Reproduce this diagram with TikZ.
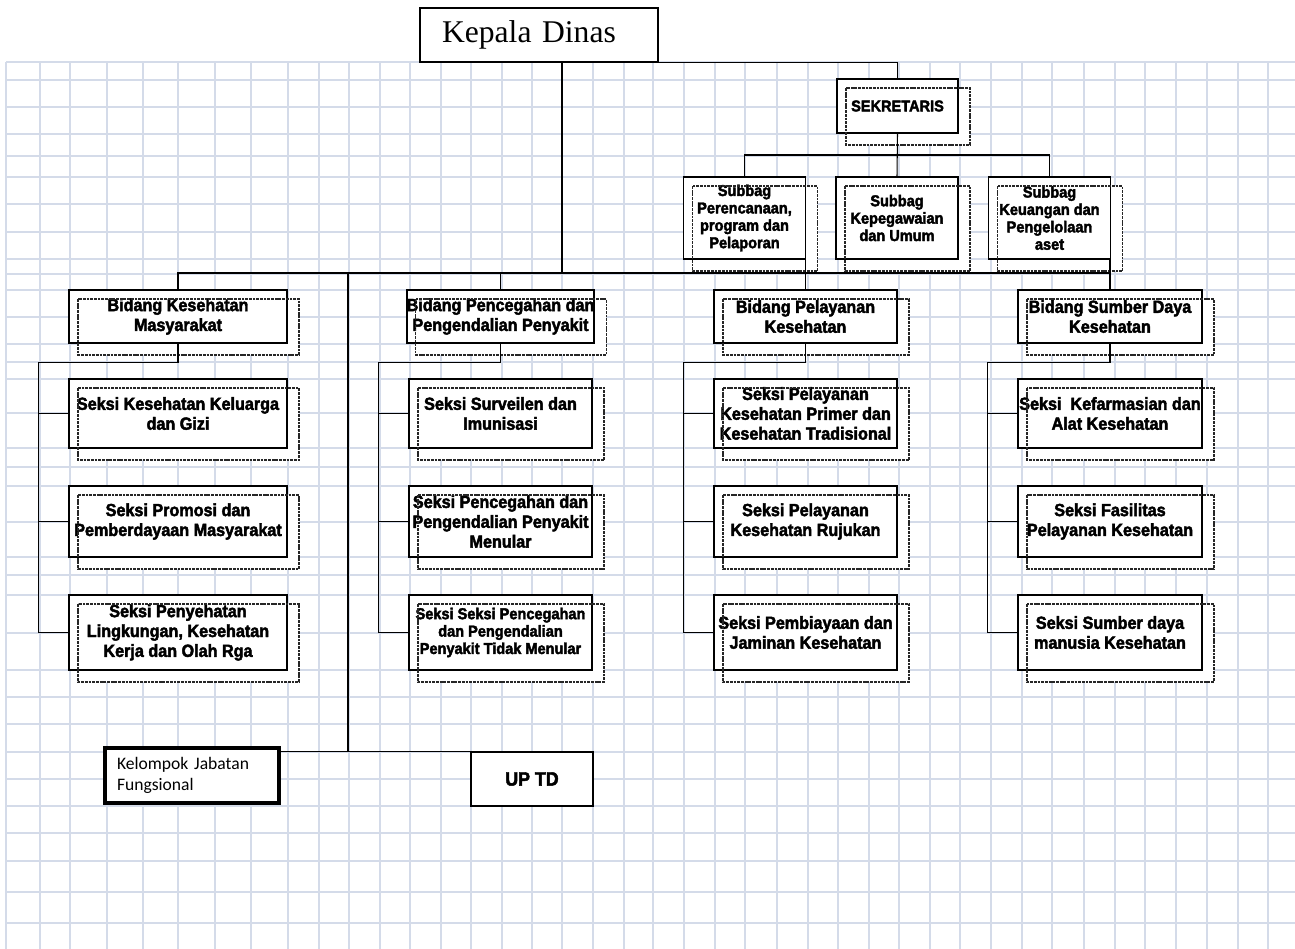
\documentclass[tikz,border=0pt]{standalone}
\usepackage{fontspec}
\setmainfont{Liberation Serif}
\newfontfamily\kotakfont[FakeStretch=0.92,BoldFeatures={FakeBold=2.5}]{Liberation Sans}
\newfontfamily\calibri{Carlito}
\usetikzlibrary{positioning}
\pgfdeclarelayer{grid}
\pgfdeclarelayer{background}
\pgfsetlayers{grid,background,main}
\definecolor{gridblue}{RGB}{212,219,233}

\tikzset{
	kotak/.style={draw,line width=1.1pt,fill=white,align=center,inner sep=0pt,
		font=\kotakfont\bfseries\fontsize{10}{11.3}\selectfont},
	kecil/.style={font=\kotakfont\bfseries\fontsize{9}{9.9}\selectfont},
	bayang/.style={draw=black!85,line width=0.75pt,dash pattern=on 1.6pt off 0.5pt},
	garis/.style={line width=0.6pt},
	gridline/.style={draw=gridblue,line width=0.65pt}
}

\def\kotak#1#2#3#4#5#6{
	\node[kotak,#1,minimum width=#4*0.02cm,minimum height=#5*0.02cm] (#2) at #3 {#6};
	\begin{pgfonlayer}{background}
		\fill[white] ([shift={(10,10)}]#2.north west) rectangle ([shift={(11,11)}]#2.south east);
	\end{pgfonlayer}
	\draw[bayang] ([shift={(10,10)}]#2.north west) rectangle ([shift={(11,11)}]#2.south east);
}

\begin{document}
\begin{tikzpicture}[x=0.02cm,y=-0.02cm]
\useasboundingbox (0,0) rectangle (1295,949);
\begin{pgfonlayer}{grid}
	\foreach \x in {6,40,70,107,143,178,215,251,288,319,349,380,410,441,471,502,532,562,593,624,653,684,715,745,777,808,838,869,899,930,960,991,1022,1052,1084,1115,1145,1176,1207,1238,1268}
		\draw[gridline] (\x,62) -- (\x,949);
	\foreach \y in {62,80,107,134,156,177,204,232,259,274,290,317,344,362,379,413,448,467,486,522,557,575,595,633,670,697,724,752,779,806,833,861,892,923}
		\draw[gridline] (6,\y) -- (1295,\y);
\end{pgfonlayer}

\node[draw,line width=1.1pt,fill=white,minimum width=238*0.02cm,minimum height=54*0.02cm,
	text width=194*0.02cm,inner xsep=22*0.02cm,align=left,font=\fontsize{18}{20}\selectfont] (kepala) at (539,35) {Kepala Dinas};

\kotak{kecil}{sekretaris}{(897.5,106)}{121}{54}{SEKRETARIS}
\kotak{kecil}{sub1}{(744.5,218)}{122}{82}{Subbag\\ Perencanaan,\\ program dan\\ Pelaporan}
\kotak{kecil}{sub2}{(897,218)}{122}{82}{Subbag\\ Kepegawaian\\ dan Umum}
\kotak{kecil}{sub3}{(1049.5,218)}{122}{82}{Subbag\\ Keuangan dan\\ Pengelolaan\\ aset}

\kotak{}{bkm}{(178,316.5)}{218}{53}{Bidang Kesehatan\\ Masyarakat}
\kotak{}{bpp}{(500.5,316.5)}{183}{53}{Bidang Pencegahan dan\\ Pengendalian Penyakit}
\kotak{}{bpk}{(805.5,316.5)}{183}{53}{Bidang Pelayanan\\ Kesehatan}
\kotak{}{bsd}{(1110,316.5)}{184}{53}{Bidang Sumber Daya\\ Kesehatan}

\kotak{}{a1}{(178,413.5)}{218}{69}{Seksi Kesehatan Keluarga\\ dan Gizi}
\kotak{}{a2}{(178,521.5)}{218}{71}{Seksi Promosi dan\\ Pemberdayaan Masyarakat}
\kotak{}{a3}{(178,632.5)}{218}{75}{Seksi Penyehatan\\ Lingkungan, Kesehatan\\ Kerja dan Olah Rga}
\kotak{}{b1}{(500.5,413.5)}{183}{69}{Seksi Surveilen dan\\ Imunisasi}
\kotak{}{b2}{(500.5,521.5)}{183}{71}{Seksi Pencegahan dan\\ Pengendalian Penyakit\\ Menular}
\kotak{kecil}{b3}{(500.5,632.5)}{183}{75}{Seksi Seksi Pencegahan\\ dan Pengendalian\\ Penyakit Tidak Menular}
\kotak{}{c1}{(805.5,413.5)}{183}{69}{Seksi Pelayanan\\ Kesehatan Primer dan\\ Kesehatan Tradisional}
\kotak{}{c2}{(805.5,521.5)}{183}{71}{Seksi Pelayanan\\ Kesehatan Rujukan}
\kotak{}{c3}{(805.5,632.5)}{183}{75}{Seksi Pembiayaan dan\\ Jaminan Kesehatan}
\kotak{}{d1}{(1110,413.5)}{184}{69}{Seksi\ \ Kefarmasian dan\\ Alat Kesehatan}
\kotak{}{d2}{(1110,521.5)}{184}{71}{Seksi Fasilitas\\ Pelayanan Kesehatan}
\kotak{}{d3}{(1110,632.5)}{184}{75}{Seksi Sumber daya\\ manusia Kesehatan}

\node[draw,line width=2.2pt,fill=white,minimum width=174*0.02cm,minimum height=55*0.02cm,
	text width=150*0.02cm,inner xsep=12*0.02cm,align=left,font=\calibri\fontsize{10}{12}\selectfont] (kjf) at (192,775.5) {Kelompok Jabatan\\ Fungsional};
\node[draw,line width=0.6pt,fill=white,minimum width=122*0.02cm,minimum height=54*0.02cm,
	font=\kotakfont\bfseries\fontsize{11}{12}\selectfont] (uptd) at (532,779) {UP TD};

\coordinate (kx) at (562,273);
\coordinate (fx) at (348,273);
\coordinate (sx) at (897,155);
\draw[garis] (kepala.south east) -| (sekretaris.north);
\draw[garis] (kepala.south -| kx) -- (kx);
\draw[garis] (sekretaris.south) -- (sub2.north);
\draw[garis] (sub1.north) -- (sub1.north |- sx) -- (sub3.north |- sx) -- (sub3.north);
\draw[garis] (bkm.north) -- (bkm.north |- kx) -- (bsd.north |- kx);
\draw[garis] (bpp.north) -- (bpp.north |- kx);
\draw[garis] (bpk.north) -- (bpk.north |- sub1.south);
\draw[garis] (bsd.north) -- (bsd.north |- sub3.south);
\draw[garis] (fx) -- (fx |- uptd.north);
\draw[garis] (kjf.east |- uptd.north) -- (uptd.north west);
\foreach \b/\s in {bkm/a,bpp/b,bpk/c,bsd/d}{
	\draw[garis] (\b.south) -- ++(0,19) -| ([shift={(-29.5,0)}]\s3.west) -- (\s3.west);
	\draw[garis] ([shift={(-29.5,0)}]\s1.west) -- (\s1.west);
	\draw[garis] ([shift={(-29.5,0)}]\s2.west) -- (\s2.west);
}
\end{tikzpicture}
\end{document}
